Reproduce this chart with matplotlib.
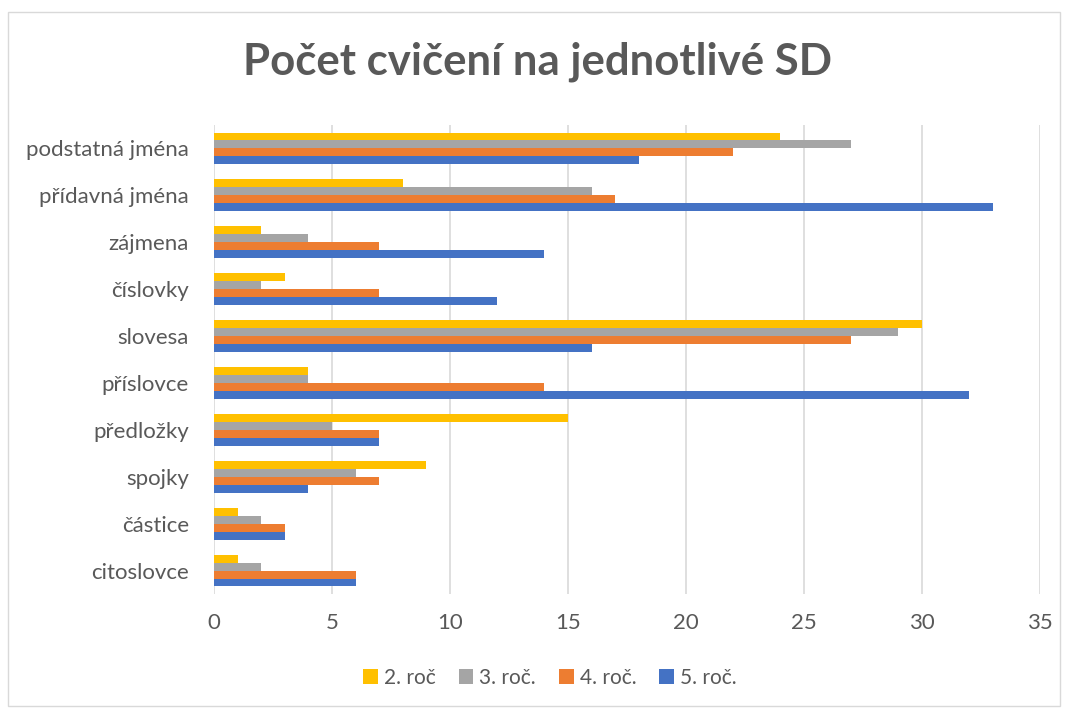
import matplotlib
matplotlib.use("Agg")
import matplotlib.pyplot as plt
from matplotlib.patches import Rectangle
import numpy as np

categories = ["podstatná jména", "přídavná jména", "zájmena", "číslovky", "slovesa",
              "příslovce", "předložky", "spojky", "částice", "citoslovce"]
series_names = ["2. roč", "3. roč.", "4. roč.", "5. roč."]
roc2 = [24, 8, 2, 3, 30, 4, 15, 9, 1, 1]
roc3 = [27, 16, 4, 2, 29, 4, 5, 6, 2, 2]
roc4 = [22, 17, 7, 7, 27, 14, 7, 7, 3, 6]
roc5 = [18, 33, 14, 12, 16, 32, 7, 4, 3, 6]
colors = ["#FFC000", "#A5A5A5", "#ED7D31", "#4472C4"]
xticks = [0, 5, 10, 15, 20, 25, 30, 35]

plt.rcParams['font.family'] = ['Lato', 'DejaVu Sans']
W, H = 1067, 709
fig = plt.figure(figsize=(W/100, H/100), dpi=100)
ax = fig.add_axes([214/W, 1-594/H, (1040-214)/W, (594-125)/H])

y = np.arange(len(categories))
bh = 0.17
for i, (vals, name, c) in enumerate(zip([roc2, roc3, roc4, roc5], series_names, colors)):
    ax.barh(y + (i - 1.5) * bh, vals, height=bh, color=c, label=name, zorder=3)

ax.set_ylim(len(categories) - 0.5, -0.5)
ax.set_xlim(0, 35)
ax.set_xticks(xticks)
ax.set_yticks(y)
ax.set_yticklabels(categories)
ax.grid(axis='x', color='#D9D9D9', linewidth=1.2, zorder=0)
for s in ax.spines.values():
    s.set_visible(False)
ax.tick_params(axis='both', length=0, colors='#595959', labelsize=16)
ax.tick_params(axis='x', pad=14)
ax.tick_params(axis='y', pad=18)

fig.text(0.5 + 4/W, 1-62/H, "Počet cvičení na jednotlivé SD", ha='center', va='center',
         fontsize=31.5, fontweight='bold', color='#595959')

leg = fig.legend(loc='center', bbox_to_anchor=(550/W, 1-678/H), ncol=4, frameon=False,
                 fontsize=15, handlelength=0.7, handleheight=0.7, handletextpad=0.3,
                 columnspacing=1.1, labelcolor='#595959')

fig.patches.append(Rectangle((8/W, 1-706/H), (1060-8)/W, (706-12)/H, transform=fig.transFigure,
                             fill=False, edgecolor='#D9D9D9', linewidth=1))
fig.savefig("out.png", dpi=100)
